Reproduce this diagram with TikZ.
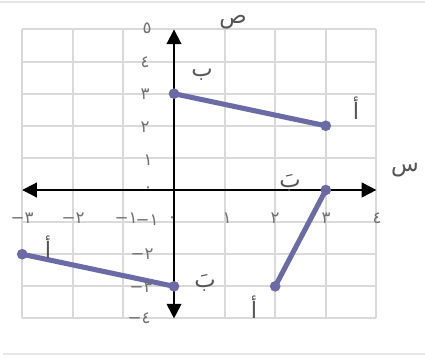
\documentclass[tikz,border=0pt]{standalone}
\usepackage{fontspec}
\newfontfamily\arabicfont[Script=Arabic]{DejaVu Sans}
\newfontfamily\numfont{DejaVu Sans}
\TeXXeTstate=1
\usetikzlibrary{arrows.meta}
\definecolor{segc}{HTML}{6A6AA6}
\definecolor{gridc}{HTML}{D9D9D9}
\definecolor{framec}{HTML}{E6E6E6}
\definecolor{lab}{HTML}{707070}
\definecolor{letc}{HTML}{555555}
\tikzset{
  numlbl/.style={text=lab, font=\numfont\fontsize{12.5}{13}\selectfont, inner sep=0pt},
  letlbl/.style={text=letc, font=\arabicfont\fontsize{17}{18}\selectfont, inner sep=0pt},
  ptdot/.style={circle, fill=segc, minimum size=8pt, inner sep=0pt},
  segline/.style={segc, line width=3.8pt},
  axisline/.style={line width=1.5pt, {Triangle[length=11pt,width=11pt]}-{Triangle[length=11pt,width=11pt]}},
  framel/.style={framec, line width=1.5pt},
  gridl/.style={gridc, line width=1.5pt},
}
\begin{document}
\begin{tikzpicture}[x=0.75pt,y=-0.75pt]
\useasboundingbox (0,0) rectangle (425,358);
\fill[white] (0,0) rectangle (425,358);
% frame lines
\coordinate (ftl) at (0,1.5);
\coordinate (ftr) at (425,1.5);
\coordinate (fbl) at (3,354);
\coordinate (fbr) at (425,354);
\draw[framel] (ftl) -- (ftr);
\draw[framel] (fbl) -- (fbr);
\begin{scope}[shift={(174,190)}, x=37.95pt, y=24.08pt]
  \foreach \i in {-3,...,4} { \draw[gridl] (\i,-4) -- (\i,5); }
  \foreach \j in {-4,...,5} { \draw[gridl] (-3,\j) -- (4,\j); }
  \coordinate (xl) at (-3,0);
  \coordinate (xr) at (4,0);
  \coordinate (yb) at (0,-4);
  \coordinate (yt) at (0,5);
  \draw[axisline] (xl) -- (xr);
  \draw[axisline] (yb) -- (yt);
  % segment 1
  \node[ptdot] (b1) at (0,3) {};
  \node[ptdot] (a1) at (3,2) {};
  \draw[segline] (b1.center) -- (a1.center);
  % segment 2
  \node[ptdot] (b2) at (3,0) {};
  \node[ptdot] (a2) at (2,-3) {};
  \draw[segline] (b2.center) -- (a2.center);
  % segment 3
  \node[ptdot] (a3) at (-3,-2) {};
  \node[ptdot] (b3) at (0,-3) {};
  \draw[segline] (a3.center) -- (b3.center);
\end{scope}
% y labels
\node[numlbl] (y5) at (147,28) {٥};
\node[numlbl] (y4) at (145,62) {٤};
\node[numlbl] (y3) at (145,94) {٣};
\node[numlbl] (y2) at (145,127) {٢};
\node[numlbl] (y1) at (148,160) {١};
\node[numlbl] (y0) at (148,190) {٠};
\node[numlbl] (ym1) at (147,220) {−١};
\node[numlbl] (ym2) at (142,254) {−٢};
\node[numlbl] (ym3) at (141,287) {−٣};
\node[numlbl] (ym4) at (139,318) {−٤};
% x labels
\node[numlbl] (xm3) at (22,218) {−٣};
\node[numlbl] (xm2) at (73,218) {−٢};
\node[numlbl] (xm1) at (126,218) {−١};
\node[numlbl] (x0) at (172,220) {٠};
\node[numlbl] (x1) at (227,218) {١};
\node[numlbl] (x2) at (275,218) {٢};
\node[numlbl] (x3) at (326,218) {٣};
\node[numlbl] (x4) at (377,218) {٤};
% axis names
\node[letlbl] (sad) at (233,22) {\beginR ص\endR};
\node[letlbl] (sin) at (405,170) {\beginR س\endR};
% point labels
\node[letlbl] (lb1) at (202,75) {\beginR ب\endR};
\node[letlbl] (la1) at (356,108) {\beginR أ\endR};
\node[letlbl] (lb2) at (290,183) {\beginR بَ\endR};
\node[letlbl] (la2) at (254,307) {\beginR أ\endR};
\node[letlbl] (la3) at (48,247) {\beginR أ\endR};
\node[letlbl] (lb3) at (205,283) {\beginR بَ\endR};
\end{tikzpicture}
\end{document}
